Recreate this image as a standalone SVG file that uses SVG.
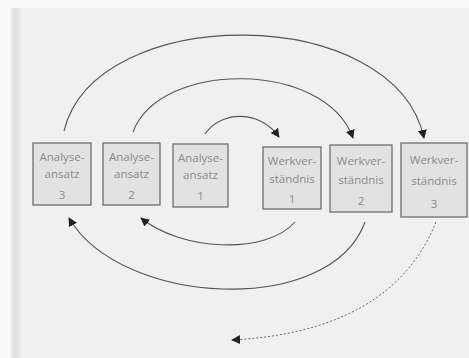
<svg xmlns="http://www.w3.org/2000/svg" width="469" height="358" viewBox="0 0 469 358">
<defs>
<style>
.box{fill:#e2e2e2;stroke:#6e6e6e;stroke-width:1.3}
.t{font-family:"Open Sans","Liberation Sans",sans-serif;font-size:11.5px;fill:#8a8a8a;text-anchor:middle}
.c{fill:none;stroke:#555;stroke-width:1.1}
.d{fill:none;stroke:#666;stroke-width:1;stroke-dasharray:2 2}
</style>
<marker id="ah" viewBox="0 0 10 10" refX="9" refY="5" markerWidth="9" markerHeight="9" markerUnits="userSpaceOnUse" orient="auto">
<path d="M0,0 L10,5 L0,10 Z" fill="#222"/>
</marker>
<linearGradient id="lg" x1="0" y1="0" x2="1" y2="0">
<stop offset="0" stop-color="#f4f4f4"/>
<stop offset="0.4" stop-color="#dcdcdc"/>
<stop offset="1" stop-color="#eeeeee"/>
</linearGradient>
</defs>
<rect width="469" height="358" fill="#f0f0f0"/>
<rect width="469" height="8" fill="#fafafa"/>
<rect x="0" y="0" width="10" height="358" fill="#fafafa"/>
<rect x="10" y="8" width="12" height="350" fill="url(#lg)"/>
<g id="connectors">
<path class="c" d="M64,131 C95,2 395,2 424,138" marker-end="url(#ah)"/>
<path class="c" d="M133,132 C160,60 325,60 353,138" marker-end="url(#ah)"/>
<path class="c" d="M205,134 C222,110 260,110 279,137" marker-end="url(#ah)"/>
<path class="c" d="M295,222 C265,256 180,250 141,218" marker-end="url(#ah)"/>
<path class="c" d="M365,222 C330,318 120,306 69,218" marker-end="url(#ah)"/>
<path class="d" d="M436,222 C405,300 330,335 232,340" marker-end="url(#ah)"/>
</g>
<g id="n1"><rect class="box" x="33" y="143" width="58" height="62"/>
<text class="t" x="62" y="161">Analyse-</text><text class="t" x="62" y="178">ansatz</text><text class="t" x="62" y="199" font-size="9">3</text></g>
<g id="n2"><rect class="box" x="103" y="143" width="57" height="62"/>
<text class="t" x="131.5" y="161">Analyse-</text><text class="t" x="131.5" y="178">ansatz</text><text class="t" x="131.5" y="199" font-size="9">2</text></g>
<g id="n3"><rect class="box" x="173" y="144" width="55" height="63"/>
<text class="t" x="200.5" y="162">Analyse-</text><text class="t" x="200.5" y="179">ansatz</text><text class="t" x="200.5" y="200" font-size="9">1</text></g>
<g id="n4"><rect class="box" x="263" y="147" width="58" height="62"/>
<text class="t" x="292" y="165">Werkver-</text><text class="t" x="292" y="183">ständnis</text><text class="t" x="292" y="203" font-size="9">1</text></g>
<g id="n5"><rect class="box" x="330" y="145" width="62" height="67"/>
<text class="t" x="361" y="165">Werkver-</text><text class="t" x="361" y="184">ständnis</text><text class="t" x="361" y="205" font-size="9">2</text></g>
<g id="n6"><rect class="box" x="401" y="143" width="66" height="74"/>
<text class="t" x="434" y="164">Werkver-</text><text class="t" x="434" y="185">ständnis</text><text class="t" x="434" y="208">3</text></g>
</svg>
